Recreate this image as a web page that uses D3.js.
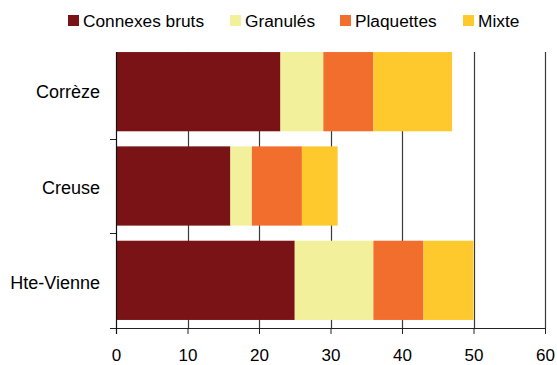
<!DOCTYPE html>
<html><head><meta charset="utf-8">
<script src="https://cdn.jsdelivr.net/npm/d3@7"></script>
<style>body{margin:0;background:#fff}svg{display:block}text{font-family:"Liberation Sans",Arial,sans-serif;fill:#000}</style>
</head><body><svg id="c" width="557" height="365"></svg>
<script>
const categories = ["Corrèze", "Creuse", "Hte-Vienne"];
const seriesNames = ["Connexes bruts", "Granulés", "Plaquettes", "Mixte"];
const connexes = [23, 16, 25];
const granules = [6, 3, 11];
const plaquettes = [7, 7, 7];
const mixte = [11, 5, 7];
const xTicks = [0, 10, 20, 30, 40, 50, 60];
const colors = ["#7A1315", "#F2F09A", "#F26E2D", "#FEC92D"];

const seriesVals = [connexes, granules, plaquettes, mixte];
const rows = categories.map((c, i) => {
  const r = {cat: c};
  seriesNames.forEach((s, j) => r[s] = seriesVals[j][i]);
  return r;
});
const stack = d3.stack().keys(seriesNames)(rows);

const svg = d3.select("#c");
const left = 116, right = 545, plotTop = 52, bottom = 328;
const x = d3.scaleLinear().domain([0, 60]).range([left, right]);
const y = d3.scaleBand().domain(categories).range([44.5, 327.5]).paddingInner(0.16).paddingOuter(0.08);

// gridlines
svg.append("g").selectAll("line").data(xTicks.slice(1)).join("line")
  .attr("x1", d => Math.round(x(d)) + 0.5).attr("x2", d => Math.round(x(d)) + 0.5)
  .attr("y1", plotTop).attr("y2", bottom)
  .attr("stroke", "#3a3a3a").attr("stroke-width", 1.2);

// bars
svg.append("g").selectAll("g").data(stack).join("g")
  .attr("fill", (d, i) => colors[i])
  .selectAll("rect").data(d => d).join("rect")
  .attr("x", d => x(d[0])).attr("width", d => x(d[1]) - x(d[0]))
  .attr("y", d => y(d.data.cat)).attr("height", y.bandwidth());

// x axis
const xAxis = svg.append("g").attr("transform", `translate(0,${bottom})`)
  .call(d3.axisBottom(x).tickValues(xTicks).tickSize(6).tickSizeOuter(0).tickPadding(14.5));
xAxis.select(".domain").attr("stroke", "#222").attr("d", `M${left - 6},0.5H${right}`);
xAxis.selectAll(".tick line").attr("stroke", "#222");
xAxis.selectAll(".tick text").attr("font-size", 17).attr("fill", "#000").attr("font-family", "Liberation Sans, Arial, sans-serif");

// y axis line and boundary ticks
const yg = svg.append("g");
yg.append("line").attr("x1", left + 0.5).attr("x2", left + 0.5).attr("y1", plotTop).attr("y2", bottom + 6).attr("stroke", "#111").attr("stroke-width", 1.2);
const bounds = categories.slice(1).map(c => y(c) - y.step() * y.paddingInner() / 2).concat([bottom]);
yg.selectAll(".yt").data(bounds).join("line")
  .attr("x1", left - 6).attr("x2", left).attr("y1", d => Math.round(d) + 0.5).attr("y2", d => Math.round(d) + 0.5)
  .attr("stroke", "#222");
yg.selectAll("text").data(categories).join("text")
  .attr("x", 100).attr("y", (d, i) => y(d) + y.bandwidth() / 2 + 6.5 + i * 1.3)
  .attr("text-anchor", "end").attr("font-size", 18).text(d => d);

// legend
const legX = [68, 230, 340, 463];
const leg = svg.append("g");
seriesNames.forEach((s, i) => {
  leg.append("rect").attr("x", legX[i]).attr("y", 15).attr("width", 11).attr("height", 11).attr("fill", colors[i]);
  leg.append("text").attr("x", legX[i] + 15).attr("y", 27).attr("font-size", 17.3).text(s);
});
</script></body></html>
